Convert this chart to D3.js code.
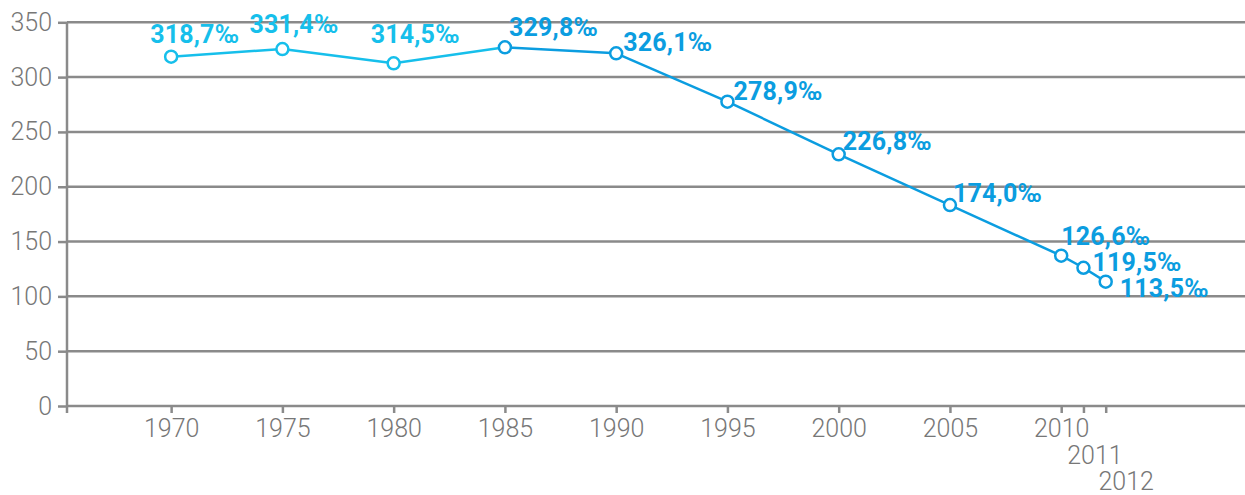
<!DOCTYPE html>
<html>
<head>
<meta charset="utf-8">
<script src="https://cdn.jsdelivr.net/npm/d3@7"></script>
<style>
  body { margin: 0; background: #fff; }
  svg { display: block; }
</style>
</head>
<body>
<div id="chart"></div>
<script>
// ---------------- DATA ----------------
const years = [1970, 1975, 1980, 1985, 1990, 1995, 2000, 2005, 2010, 2011, 2012];
// plotted values
const rates = [318.6, 325.6, 312.6, 327.2, 321.7, 277.6, 229.6, 183.3, 137.1, 126.1, 113.4];
// printed labels
const rateLabels = ["318,7‰", "331,4‰", "314,5‰", "329,8‰", "326,1‰", "278,9‰",
  "226,8‰", "174,0‰", "126,6‰", "119,5‰", "113,5‰"];
const yTicks = [0, 50, 100, 150, 200, 250, 300, 350];
const xTicks = [1970, 1975, 1980, 1985, 1990, 1995, 2000, 2005, 2010, 2011, 2012];

// ---------------- LAYOUT ----------------
const width = 1245;
const height = 495;
const lightBlue = "#16bfeb";
const darkBlue = "#0b9de0";
const gridColor = "#8a8a8a";
const textGray = "#777";

// label offsets relative to the marker: [dx, dy]
const labelOffsets = [[-21, -14], [-33, -16], [-23, -20], [4, -11], [7, -2], [6, -2],
  [4, -4], [3, -3], [0, -11], [9, 3], [14, 15]];
// x tick label shifts for the crowded end: [dx, dy]
const tickShift = { 2011: [11, 27], 2012: [20, 53] };

const colorAt = (i) => (i < 3 ? lightBlue : darkBlue);

const x = d3.scaleLinear().domain([1965.32, 2018.26]).range([67, 1245]);
const y = d3.scaleLinear().domain([0, 350]).range([406, 22.3]);

const svg = d3.select("#chart")
  .append("svg")
  .attr("width", width)
  .attr("height", height);

// grid lines
svg.append("g")
  .selectAll("line")
  .data(yTicks.filter((d) => d > 0))
  .enter()
  .append("line")
  .attr("x1", x.range()[0])
  .attr("x2", x.range()[1])
  .attr("y1", (d) => y(d))
  .attr("y2", (d) => y(d))
  .attr("stroke", gridColor)
  .attr("stroke-width", 2.5);

// y axis
const yAxis = svg.append("g")
  .attr("transform", `translate(${x.range()[0]},0)`)
  .call(d3.axisLeft(y).tickValues(yTicks).tickSize(9).tickPadding(6));
yAxis.select(".domain").remove();
yAxis.selectAll(".tick line").attr("stroke", gridColor).attr("stroke-width", 2.5);
yAxis.selectAll(".tick text")
  .attr("fill", textGray)
  .style("font-family", "Roboto, sans-serif")
  .style("font-weight", 300)
  .style("font-size", "25px");
svg.append("line")
  .attr("x1", x.range()[0])
  .attr("x2", x.range()[0])
  .attr("y1", y(350))
  .attr("y2", y(0) + 7)
  .attr("stroke", gridColor)
  .attr("stroke-width", 2.5);

// x axis
const xAxis = svg.append("g")
  .attr("transform", `translate(0,${y(0)})`)
  .call(d3.axisBottom(x).tickValues(xTicks).tickFormat(d3.format("d")).tickSize(7).tickPadding(6));
xAxis.select(".domain").remove();
xAxis.selectAll(".tick line").attr("stroke", gridColor).attr("stroke-width", 2.5);
xAxis.selectAll(".tick text")
  .attr("fill", textGray)
  .attr("dx", (d) => (tickShift[d] ? tickShift[d][0] : 0))
  .attr("y", (d) => 13 + (tickShift[d] ? tickShift[d][1] : 0))
  .style("font-family", "Roboto, sans-serif")
  .style("font-weight", 300)
  .style("font-size", "25px");
svg.append("line")
  .attr("x1", x.range()[0])
  .attr("x2", x.range()[1])
  .attr("y1", y(0))
  .attr("y2", y(0))
  .attr("stroke", gridColor)
  .attr("stroke-width", 2.5);

// line segments
const points = years.map((yr, i) => ({ year: yr, rate: rates[i], label: rateLabels[i], i }));
svg.append("g")
  .selectAll("line")
  .data(points.slice(0, -1))
  .enter()
  .append("line")
  .attr("x1", (d) => x(d.year))
  .attr("y1", (d) => y(d.rate))
  .attr("x2", (d) => x(points[d.i + 1].year))
  .attr("y2", (d) => y(points[d.i + 1].rate))
  .attr("stroke", (d) => colorAt(d.i))
  .attr("stroke-width", 2.5);

// markers
svg.append("g")
  .selectAll("circle")
  .data(points)
  .enter()
  .append("circle")
  .attr("cx", (d) => x(d.year))
  .attr("cy", (d) => y(d.rate))
  .attr("r", 6)
  .attr("fill", "#fff")
  .attr("stroke", (d) => colorAt(d.i))
  .attr("stroke-width", 2.5);

// value labels
svg.append("g")
  .selectAll("text")
  .data(points)
  .enter()
  .append("text")
  .attr("x", (d) => x(d.year) + labelOffsets[d.i][0])
  .attr("y", (d) => y(d.rate) + labelOffsets[d.i][1])
  .attr("fill", (d) => colorAt(d.i))
  .style("font-family", "Roboto, sans-serif")
  .style("font-weight", 700)
  .style("font-size", "25px")
  .style("letter-spacing", "0.2px")
  .text((d) => d.label);
</script>
</body>
</html>
